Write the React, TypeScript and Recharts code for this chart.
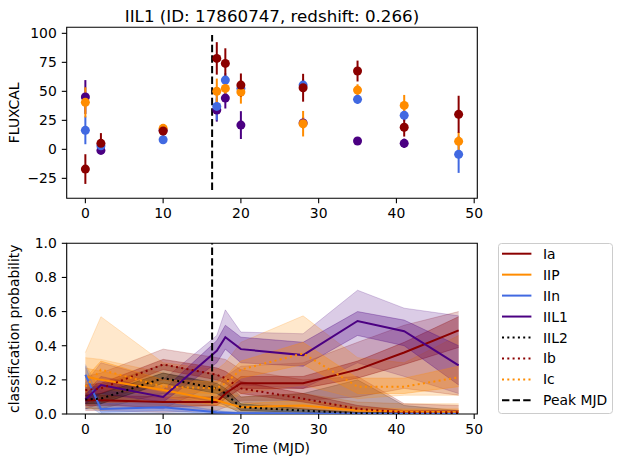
import React from "react"
import {
  Area,
  ComposedChart,
  ErrorBar,
  Legend,
  Line,
  ReferenceArea,
  ReferenceLine,
  Scatter,
  XAxis,
  YAxis,
} from "recharts"

const FONT = '"DejaVu Sans", sans-serif'
const SIZE = 13.9

const DARKRED = "#8b0000"
const ORANGE = "#ff8c00"
const BLUE = "#4169e1"
const INDIGO = "#4b0082"
const BLACK = "#000000"

const PEAK_MJD = 16.3
const X_DOMAIN = [-2.4, 50.4]
const X_TICKS = [0, 10, 20, 30, 40, 50]
const FLUX_DOMAIN = [-42.2, 105.2]
const FLUX_TICKS = [-25, 0, 25, 50, 75, 100]
const PROB_TICKS = [0, 0.2, 0.4, 0.6, 0.8, 1.0]

// light curve: FLUXCAL per passband
const iaTimes = [0, 2, 10, 16.9, 18, 20, 28, 35, 41, 48]
const iaFlux = [-17, 5.2, 15.8, 78.4, 74.1, 55.4, 53.1, 67.5, 19, 30.2]
const iaErr = [12.8, 8.8, 4, 14, 13, 10, 12, 9, 8, 16]

const iipTimes = [0, 10, 16.9, 18, 20, 28, 35, 41, 48]
const iipFlux = [40.5, 18.1, 50.0, 52.5, 49.4, 22.1, 51.1, 37.9, 6.9]
const iipErr = [13, 3, 11, 9, 10, 11, 5, 9, 8]

const iinTimes = [0, 2, 10, 16.9, 18, 20, 28, 35, 41, 48]
const iinFlux = [16.4, 3.1, 8.3, 37.0, 59.7, 52.5, 55.4, 43.1, 29.3, -4.3]
const iinErr = [12, 4, 2.5, 12, 6, 5, 5, 4, 5, 16]

const iil1Times = [0, 2, 10, 16.9, 18, 20, 28, 35, 41]
const iil1Flux = [45.1, -0.9, 16.5, 33.9, 44.2, 20.9, 22.8, 7.2, 5.2]
const iil1Err = [14.6, 3, 3, 10, 9, 12, 5, 3, 4]

// classification probabilities at each epoch
const epochs = [0, 2, 10, 16.9, 18, 20, 28, 35, 41, 48]

const iaProb = [0.08, 0.08, 0.07, 0.07, 0.12, 0.18, 0.18, 0.26, 0.36, 0.49]
const iaInLo = [0.05, 0.05, 0.04, 0.05, 0.09, 0.15, 0.15, 0.21, 0.29, 0.39]
const iaInHi = [0.11, 0.11, 0.1, 0.1, 0.15, 0.22, 0.22, 0.31, 0.42, 0.57]
const iaOutLo = [0.02, 0.02, 0.01, 0.02, 0.04, 0.08, 0.08, 0.1, 0.15, 0.11]
const iaOutHi = [0.16, 0.16, 0.16, 0.14, 0.22, 0.28, 0.3, 0.42, 0.52, 0.6]

const iipProb = [0.22, 0.2, 0.14, 0.08, 0.065, 0.04, 0.05, 0.02, 0.015, 0.01]
const iipInLo = [0.17, 0.15, 0.1, 0.05, 0.04, 0.02, 0.03, 0.01, 0.005, 0.005]
const iipInHi = [0.27, 0.25, 0.18, 0.11, 0.09, 0.06, 0.08, 0.04, 0.03, 0.03]
const iipOutLo = [0.1, 0.08, 0.05, 0.02, 0.01, 0.005, 0.01, 0, 0, 0]
const iipOutHi = [0.33, 0.32, 0.24, 0.17, 0.13, 0.1, 0.12, 0.07, 0.06, 0.06]

const iinProb = [0.23, 0.03, 0.04, 0.01, 0.008, 0.005, 0.003, 0.002, 0.002, 0.002]
const iinInLo = [0.16, 0.01, 0.02, 0, 0, 0, 0, 0, 0, 0]
const iinInHi = [0.28, 0.06, 0.07, 0.02, 0.015, 0.01, 0.006, 0.004, 0.004, 0.004]
const iinOutLo = [0.06, 0, 0, 0, 0, 0, 0, 0, 0, 0]
const iinOutHi = [0.29, 0.13, 0.12, 0.05, 0.04, 0.03, 0.02, 0.01, 0.01, 0.01]

const iil1Prob = [0.085, 0.17, 0.1, 0.37, 0.45, 0.38, 0.345, 0.545, 0.485, 0.285]
const iil1InLo = [0.06, 0.12, 0.07, 0.3, 0.38, 0.3, 0.28, 0.46, 0.4, 0.17]
const iil1InHi = [0.12, 0.22, 0.14, 0.43, 0.52, 0.45, 0.42, 0.6, 0.55, 0.4]
const iil1OutLo = [0.03, 0.06, 0.03, 0.18, 0.22, 0.17, 0.15, 0.3, 0.22, 0.12]
const iil1OutHi = [0.18, 0.3, 0.2, 0.46, 0.61, 0.48, 0.47, 0.725, 0.62, 0.575]

const iil2Prob = [0.085, 0.09, 0.21, 0.15, 0.12, 0.04, 0.02, 0.005, 0.003, 0.003]
const iil2InLo = [0.06, 0.06, 0.18, 0.12, 0.09, 0.02, 0.01, 0, 0, 0]
const iil2InHi = [0.11, 0.12, 0.24, 0.18, 0.15, 0.06, 0.03, 0.01, 0.008, 0.008]
const iil2OutLo = [0.03, 0.03, 0.12, 0.07, 0.05, 0.005, 0, 0, 0, 0]
const iil2OutHi = [0.15, 0.17, 0.29, 0.23, 0.2, 0.1, 0.12, 0.2, 0.05, 0.02]

const ibProb = [0.14, 0.15, 0.29, 0.23, 0.21, 0.15, 0.09, 0.03, 0.01, 0.01]
const ibInLo = [0.11, 0.12, 0.26, 0.2, 0.18, 0.12, 0.07, 0.02, 0.005, 0.005]
const ibInHi = [0.17, 0.18, 0.32, 0.27, 0.25, 0.19, 0.12, 0.05, 0.02, 0.02]
const ibOutLo = [0.06, 0.07, 0.2, 0.14, 0.12, 0.07, 0.03, 0, 0, 0]
const ibOutHi = [0.22, 0.24, 0.38, 0.33, 0.32, 0.26, 0.2, 0.22, 0.06, 0.05]

const icProb = [0.16, 0.26, 0.16, 0.15, 0.18, 0.26, 0.355, 0.16, 0.16, 0.215]
const icInLo = [0.12, 0.21, 0.13, 0.12, 0.14, 0.21, 0.29, 0.12, 0.12, 0.16]
const icInHi = [0.21, 0.31, 0.2, 0.19, 0.22, 0.31, 0.42, 0.21, 0.21, 0.28]
const icOutLo = [0.04, 0.02, 0.05, 0.05, 0.06, 0.12, 0.17, 0.09, 0.11, 0.11]
const icOutHi = [0.36, 0.57, 0.3, 0.26, 0.3, 0.42, 0.575, 0.33, 0.3, 0.46]

const DOTTED = "2 3.3"
const DASHED = "7.4 3.2"

const bands = [
  { key: "ia", name: "Ia", color: DARKRED, dash: undefined, prob: iaProb, inLo: iaInLo, inHi: iaInHi, outLo: iaOutLo, outHi: iaOutHi },
  { key: "iip", name: "IIP", color: ORANGE, dash: undefined, prob: iipProb, inLo: iipInLo, inHi: iipInHi, outLo: iipOutLo, outHi: iipOutHi },
  { key: "iin", name: "IIn", color: BLUE, dash: undefined, prob: iinProb, inLo: iinInLo, inHi: iinInHi, outLo: iinOutLo, outHi: iinOutHi },
  { key: "iil1", name: "IIL1", color: INDIGO, dash: undefined, prob: iil1Prob, inLo: iil1InLo, inHi: iil1InHi, outLo: iil1OutLo, outHi: iil1OutHi },
  { key: "iil2", name: "IIL2", color: BLACK, dash: DOTTED, prob: iil2Prob, inLo: iil2InLo, inHi: iil2InHi, outLo: iil2OutLo, outHi: iil2OutHi },
  { key: "ib", name: "Ib", color: DARKRED, dash: DOTTED, prob: ibProb, inLo: ibInLo, inHi: ibInHi, outLo: ibOutLo, outHi: ibOutHi },
  { key: "ic", name: "Ic", color: ORANGE, dash: DOTTED, prob: icProb, inLo: icInLo, inHi: icInHi, outLo: icOutLo, outHi: icOutHi },
]

const probRows = epochs.map((t, i) => {
  const row: Record<string, any> = { t }
  bands.forEach((b) => {
    row[b.key] = b.prob[i]
    row[b.key + "In"] = [b.inLo[i], b.inHi[i]]
    row[b.key + "Out"] = [b.outLo[i], b.outHi[i]]
  })
  return row
})

const toPoints = (times: number[], flux: number[], err: number[]) =>
  times.map((t, i) => ({ t, flux: flux[i], err: err[i] }))

// drawing order: later ones sit on top
const lightCurves = [
  { name: "IIL1", color: INDIGO, points: toPoints(iil1Times, iil1Flux, iil1Err) },
  { name: "IIn", color: BLUE, points: toPoints(iinTimes, iinFlux, iinErr) },
  { name: "IIP", color: ORANGE, points: toPoints(iipTimes, iipFlux, iipErr) },
  { name: "Ia", color: DARKRED, points: toPoints(iaTimes, iaFlux, iaErr) },
]

const legendItems = [
  ...bands.map((b) => ({ label: b.name, color: b.color, dash: b.dash })),
  { label: "Peak MJD", color: BLACK, dash: DASHED },
]

const minus = (v: number) => String(v).replace("-", "\u2212")
const tickStyle = { fill: "#000", fontSize: SIZE, fontFamily: FONT }

function LegendBox() {
  return (
    <svg width={115} height={171} style={{ display: "block" }}>
      <rect x={0.5} y={0.5} width={114} height={170} rx={3} fill="#fff" fillOpacity={0.8} stroke="#cccccc" />
      {legendItems.map((it, i) => {
        const y = 10.7 + i * 20.95
        return (
          <g key={it.label}>
            <line x1={4} x2={33.4} y1={y} y2={y} stroke={it.color} strokeWidth={2} strokeDasharray={it.dash} />
            <text x={45} y={y} dy="0.36em" fontSize={SIZE} fontFamily={FONT} fill="#000">
              {it.label}
            </text>
          </g>
        )
      })}
    </svg>
  )
}

function xAxis() {
  return (
    <XAxis
      type="number"
      dataKey="t"
      domain={X_DOMAIN}
      ticks={X_TICKS}
      interval={0}
      allowDataOverflow
      height={30}
      tickSize={4.9}
      tickMargin={5}
      axisLine={false}
      tickLine={{ stroke: "#000", strokeWidth: 1.1 }}
      tick={tickStyle}
    />
  )
}

export default function App() {
  return (
    <div style={{ position: "absolute", left: 0, top: 0, width: 619, height: 462, background: "#fff" }}>
      <div style={{ position: "absolute", left: 0, top: 0 }}>
        <ComposedChart width={619} height={232} margin={{ top: 27.3, right: 141.7, bottom: 3.7, left: 0 }}>
          {xAxis()}
          <YAxis
            type="number"
            dataKey="flux"
            domain={FLUX_DOMAIN}
            ticks={FLUX_TICKS}
            interval={0}
            allowDataOverflow
            width={66.7}
            tickSize={4.9}
            tickMargin={5}
            axisLine={false}
            tickLine={{ stroke: "#000", strokeWidth: 1.1 }}
            tick={tickStyle}
            tickFormatter={minus}
          />
          <ReferenceLine
            segment={[
              { x: PEAK_MJD, y: -35 },
              { x: PEAK_MJD, y: 98.5 },
            ]}
            stroke="#000"
            strokeWidth={2}
            strokeDasharray={DASHED}
          />
          {lightCurves.map((s) => (
            <Scatter
              key={s.name}
              name={s.name}
              data={s.points}
              dataKey="flux"
              fill={s.color}
              isAnimationActive={false}
              shape={(p: any) => <circle cx={p.cx} cy={p.cy} r={4.5} fill={s.color} />}
            >
              <ErrorBar dataKey="err" direction="y" width={0} stroke={s.color} strokeWidth={2} />
            </Scatter>
          ))}
          <ReferenceArea
            x1={X_DOMAIN[0]}
            x2={X_DOMAIN[1]}
            y1={FLUX_DOMAIN[0]}
            y2={FLUX_DOMAIN[1]}
            fill="none"
            stroke="#000"
            strokeWidth={1.1}
          />
        </ComposedChart>
      </div>

      <div style={{ position: "absolute", left: 0, top: 220 }}>
        <ComposedChart width={619} height={232} data={probRows} margin={{ top: 23.3, right: 141.7, bottom: 8, left: 0 }}>
          {xAxis()}
          <YAxis
            type="number"
            domain={[0, 1]}
            ticks={PROB_TICKS}
            interval={0}
            allowDataOverflow
            width={66.7}
            tickSize={4.9}
            tickMargin={5}
            axisLine={false}
            tickLine={{ stroke: "#000", strokeWidth: 1.1 }}
            tick={tickStyle}
            tickFormatter={(v: number) => v.toFixed(1)}
          />
          {bands.map((b) => (
            <Area
              key={b.key + "Out"}
              type="linear"
              dataKey={b.key + "Out"}
              fill={b.color}
              fillOpacity={0.2}
              stroke={b.color}
              strokeOpacity={0.2}
              strokeWidth={1}
              dot={false}
              activeDot={false}
              isAnimationActive={false}
            />
          ))}
          {bands.map((b) => (
            <Area
              key={b.key + "In"}
              type="linear"
              dataKey={b.key + "In"}
              fill={b.color}
              fillOpacity={0.3}
              stroke={b.color}
              strokeOpacity={0.3}
              strokeWidth={1}
              dot={false}
              activeDot={false}
              isAnimationActive={false}
            />
          ))}
          {bands.map((b) => (
            <Line
              key={b.key}
              type="linear"
              dataKey={b.key}
              stroke={b.color}
              strokeWidth={2}
              strokeDasharray={b.dash}
              dot={false}
              activeDot={false}
              isAnimationActive={false}
            />
          ))}
          <ReferenceLine x={PEAK_MJD} stroke="#000" strokeWidth={2} strokeDasharray={DASHED} />
          <ReferenceArea x1={X_DOMAIN[0]} x2={X_DOMAIN[1]} y1={0} y2={1} fill="none" stroke="#000" strokeWidth={1.1} />
          <Legend
            layout="vertical"
            align="center"
            verticalAlign="middle"
            content={() => <LegendBox />}
            wrapperStyle={{ position: "absolute", left: 498.3, top: 23.3, width: 115, height: 171 }}
          />
        </ComposedChart>
      </div>

      <svg width={619} height={462} style={{ position: "absolute", left: 0, top: 0, pointerEvents: "none" }}>
        <text x={272} y={21.7} textAnchor="middle" fontSize={16.7} fontFamily={FONT} fill="#000">
          IIL1 (ID: 17860747, redshift: 0.266)
        </text>
        <text transform="translate(19, 112.8) rotate(-90)" textAnchor="middle" fontSize={SIZE} fontFamily={FONT} fill="#000">
          FLUXCAL
        </text>
        <text transform="translate(18.5, 328.7) rotate(-90)" textAnchor="middle" fontSize={SIZE} fontFamily={FONT} fill="#000">
          classification probability
        </text>
        <text x={272} y={453} textAnchor="middle" fontSize={SIZE} fontFamily={FONT} fill="#000">
          Time (MJD)
        </text>
      </svg>
    </div>
  )
}
